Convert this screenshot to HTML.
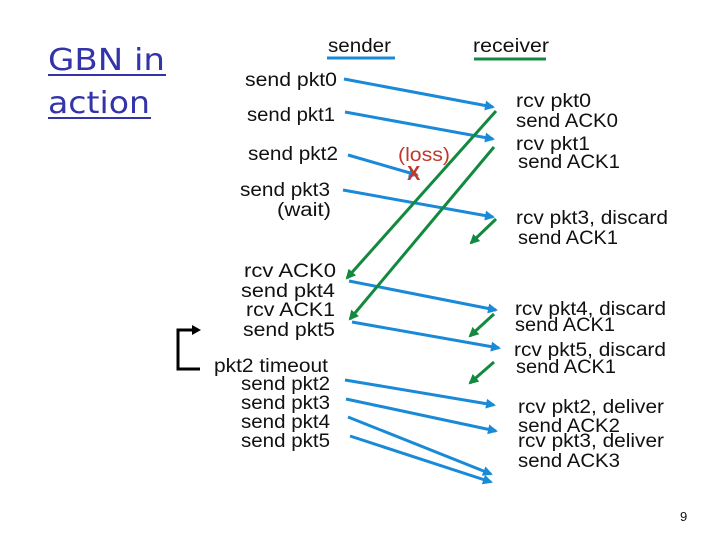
<!DOCTYPE html>
<html><head><style>
html,body{margin:0;padding:0;background:#fff;}
svg{display:block;}
.t{font-family:"Liberation Sans",sans-serif;font-size:19px;fill:#111;}
</style></head><body>
<svg width="720" height="540" viewBox="0 0 720 540" xmlns="http://www.w3.org/2000/svg">
<defs>
<marker id="b" markerWidth="10" markerHeight="10" refX="8" refY="5" orient="auto" markerUnits="userSpaceOnUse"><path d="M0,0 L10,5 L0,10 Z" fill="#1a8ad8"/></marker>
<marker id="g" markerWidth="10" markerHeight="10" refX="8" refY="5" orient="auto" markerUnits="userSpaceOnUse"><path d="M0,0 L10,5 L0,10 Z" fill="#12893e"/></marker>
</defs>
<text x="48" y="70" font-family="'DejaVu Sans',sans-serif" font-size="30" fill="#3333aa" textLength="117" lengthAdjust="spacingAndGlyphs">GBN in</text>
<line x1="48" y1="75" x2="166" y2="75" stroke="#3333aa" stroke-width="2"/>
<text x="48" y="113" font-family="'DejaVu Sans',sans-serif" font-size="30" fill="#3333aa" textLength="102" lengthAdjust="spacingAndGlyphs">action</text>
<line x1="48" y1="118" x2="151" y2="118" stroke="#3333aa" stroke-width="2"/>

<g lengthAdjust="spacingAndGlyphs">
<text class="t" x="328" y="52" textLength="63" lengthAdjust="spacingAndGlyphs">sender</text>
<text class="t" x="473" y="52" textLength="76" lengthAdjust="spacingAndGlyphs">receiver</text>
<text class="t" x="245" y="86" textLength="92" lengthAdjust="spacingAndGlyphs">send pkt0</text>
<text class="t" x="247" y="121" textLength="88" lengthAdjust="spacingAndGlyphs">send pkt1</text>
<text class="t" x="248" y="160" textLength="90" lengthAdjust="spacingAndGlyphs">send pkt2</text>
<text class="t" x="240" y="196" textLength="90" lengthAdjust="spacingAndGlyphs">send pkt3</text>
<text class="t" x="277" y="216" textLength="54" lengthAdjust="spacingAndGlyphs">(wait)</text>
<text class="t" x="516" y="107" textLength="75" lengthAdjust="spacingAndGlyphs">rcv pkt0</text>
<text class="t" x="516" y="127" textLength="102" lengthAdjust="spacingAndGlyphs">send ACK0</text>
<text class="t" x="516" y="150" textLength="74" lengthAdjust="spacingAndGlyphs">rcv pkt1</text>
<text class="t" x="518" y="168" textLength="102" lengthAdjust="spacingAndGlyphs">send ACK1</text>
<text class="t" x="516" y="224" textLength="152" lengthAdjust="spacingAndGlyphs">rcv pkt3, discard</text>
<text class="t" x="518" y="244" textLength="100" lengthAdjust="spacingAndGlyphs">send ACK1</text>
<text class="t" x="244" y="277" textLength="92" lengthAdjust="spacingAndGlyphs">rcv ACK0</text>
<text class="t" x="241" y="297" textLength="94" lengthAdjust="spacingAndGlyphs">send pkt4</text>
<text class="t" x="246" y="316" textLength="89" lengthAdjust="spacingAndGlyphs">rcv ACK1</text>
<text class="t" x="243" y="336" textLength="92" lengthAdjust="spacingAndGlyphs">send pkt5</text>
<text class="t" x="214" y="372" textLength="114" lengthAdjust="spacingAndGlyphs">pkt2 timeout</text>
<text class="t" x="241" y="390" textLength="89" lengthAdjust="spacingAndGlyphs">send pkt2</text>
<text class="t" x="241" y="409" textLength="89" lengthAdjust="spacingAndGlyphs">send pkt3</text>
<text class="t" x="241" y="428" textLength="89" lengthAdjust="spacingAndGlyphs">send pkt4</text>
<text class="t" x="241" y="447" textLength="89" lengthAdjust="spacingAndGlyphs">send pkt5</text>
<text class="t" x="515" y="315" textLength="151" lengthAdjust="spacingAndGlyphs">rcv pkt4, discard</text>
<text class="t" x="515" y="331" textLength="100" lengthAdjust="spacingAndGlyphs">send ACK1</text>
<text class="t" x="514" y="356" textLength="152" lengthAdjust="spacingAndGlyphs">rcv pkt5, discard</text>
<text class="t" x="516" y="373" textLength="100" lengthAdjust="spacingAndGlyphs">send ACK1</text>
<text class="t" x="518" y="413" textLength="146" lengthAdjust="spacingAndGlyphs">rcv pkt2, deliver</text>
<text class="t" x="518" y="432" textLength="102" lengthAdjust="spacingAndGlyphs">send ACK2</text>
<text class="t" x="518" y="447" textLength="146" lengthAdjust="spacingAndGlyphs">rcv pkt3, deliver</text>
<text class="t" x="518" y="467" textLength="102" lengthAdjust="spacingAndGlyphs">send ACK3</text>
</g>
<line x1="327" y1="58" x2="395" y2="58" stroke="#1a8ad8" stroke-width="3"/>
<line x1="474" y1="59" x2="546" y2="59" stroke="#12893e" stroke-width="3"/>
<text x="398" y="161" font-family="'Liberation Sans',sans-serif" font-size="19" fill="#c0392b" textLength="52" lengthAdjust="spacingAndGlyphs">(loss)</text>

<g stroke="#1a8ad8" stroke-width="3" marker-end="url(#b)">
<line x1="344" y1="79" x2="493" y2="107"/>
<line x1="345" y1="112" x2="493" y2="139"/>
<line x1="348" y1="155" x2="417" y2="175"/>
<line x1="343" y1="190" x2="493" y2="217"/>
<line x1="349" y1="281" x2="496" y2="310"/>
<line x1="352" y1="322" x2="499" y2="348"/>
<line x1="345" y1="380" x2="494" y2="405"/>
<line x1="346" y1="399" x2="496" y2="431"/>
<line x1="348" y1="417" x2="491" y2="474"/>
<line x1="350" y1="436" x2="491" y2="482"/>
</g>
<text x="407" y="180" font-family="'Liberation Sans',sans-serif" font-size="20" font-weight="bold" fill="#c0392b">X</text>
<g stroke="#12893e" stroke-width="3" marker-end="url(#g)">
<line x1="496" y1="111" x2="347" y2="278"/>
<line x1="494" y1="147" x2="350" y2="319"/>
<line x1="496" y1="219" x2="471" y2="243"/>
<line x1="494" y1="314" x2="470" y2="336"/>
<line x1="494" y1="362" x2="470" y2="383"/>
</g>
<path d="M198,330 L178,330 L178,369 L200,369" fill="none" stroke="#000" stroke-width="3"/>
<path d="M192,325 L201,330 L192,335 Z" fill="#000"/>
<text x="680" y="521" font-family="'Liberation Sans',sans-serif" font-size="13" fill="#111">9</text>
</svg>
</body></html>
